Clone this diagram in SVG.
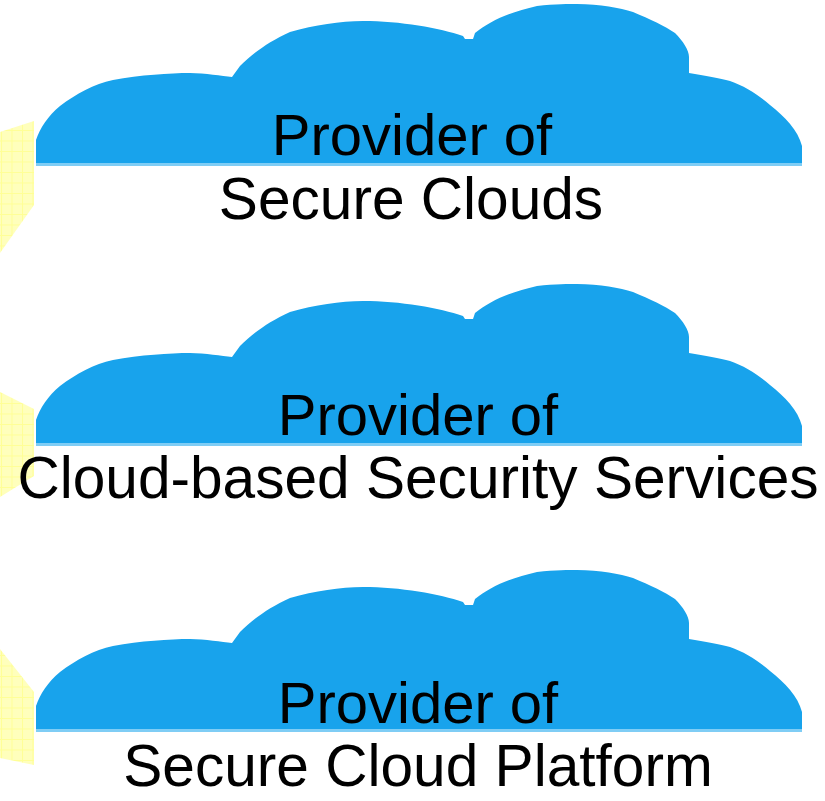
<svg xmlns="http://www.w3.org/2000/svg" width="825" height="801" viewBox="0 0 825 801">
<style>
.cloud{fill:#18a3ec}
.band{fill:#7fcdf5}
.yellow{fill:url(#grid)}
text{font-family:"Liberation Sans",Arial,sans-serif;font-size:58px;fill:#000;text-anchor:middle}
.wide{font-size:58.6px}
</style>
<defs>
<pattern id="grid" patternUnits="userSpaceOnUse" x="1" y="4" width="10.5" height="10.5">
<rect width="10.5" height="10.5" fill="#ffffbc"/>
<path d="M0 .5H10.5M.5 0V10.5" stroke="#ffff96" stroke-width="1" fill="none"/>
</pattern>
<g id="cloudShape">
<rect class="band" x="36" y="163" width="766" height="3"/>
<path class="cloud" d="M36 163V140C40 128 48 116 60 106C76 94 94 84 113 80C140 75 170 73 190 73C205 73 222 76 232 77L240 66C252 54 268 42 290 32C315 25 340 21 363 21C400 21 440 28 463 36L465 39H473L475 33C490 21 510 12 537 6C555 4 570 4 577 4C600 4 620 8 633 12C650 19 665 26 675 33C683 41 689 50 689 57V73C705 76 720 78 730 81C745 86 760 96 770 105C785 117 798 130 802 146V163Z"/>
</g>
</defs>
<g id="connectors"/>
<g id="panel-1"><polygon class="yellow" points="0,132 34,121 34,205 0,253"/></g>
<g id="panel-2"><polygon class="yellow" points="0,392 34,409 34,476 0,497"/></g>
<g id="panel-3"><polygon class="yellow" points="0,649 34,692 34,765 0,758"/></g>
<g id="node-1"><use href="#cloudShape"/><text x="412" y="155">Provider of</text><text class="wide" x="411" y="219">Secure Clouds</text></g>
<g id="node-2"><use href="#cloudShape" y="280"/><text x="418" y="435">Provider of</text><text class="wide" x="418" y="498">Cloud-based Security Services</text></g>
<g id="node-3"><use href="#cloudShape" y="566"/><text x="418" y="723">Provider of</text><text class="wide" x="418" y="786">Secure Cloud Platform</text></g>
</svg>
